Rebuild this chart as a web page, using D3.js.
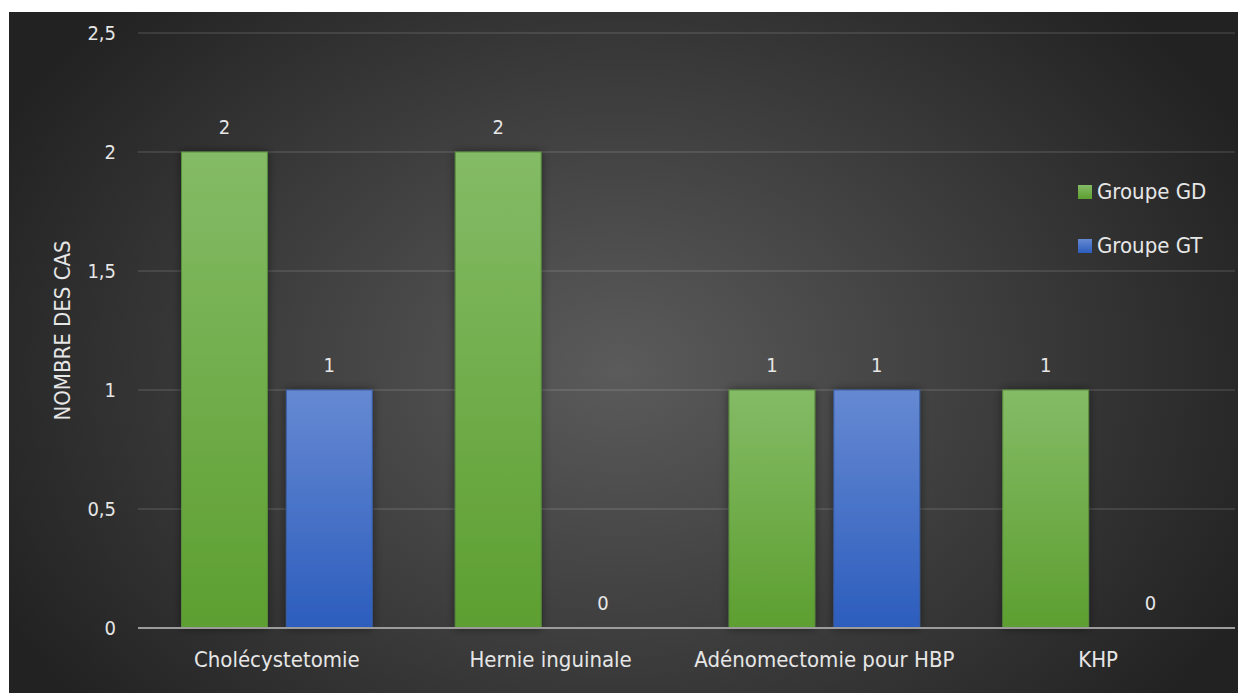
<!DOCTYPE html>
<html>
<head>
<meta charset="utf-8">
<script src="https://cdn.jsdelivr.net/npm/d3@7"></script>
<style>
  html, body { margin: 0; padding: 0; background: #ffffff; }
  svg { display: block; }
  text { font-family: "DejaVu Sans", sans-serif; font-stretch: condensed; fill: #e6e6e6; }
</style>
</head>
<body>
<svg id="chart" width="1238" height="693"></svg>
<script>
const categories = ["Cholécystetomie", "Hernie inguinale", "Adénomectomie pour HBP", "KHP"];
const seriesNames = ["Groupe GD", "Groupe GT"];
const groupGD = [2, 2, 1, 1];
const groupGT = [1, 0, 1, 0];
const yTicks = [0, 0.5, 1, 1.5, 2, 2.5];
const yTitle = "NOMBRE DES CAS";

const seriesValues = [groupGD, groupGT];
const W = 1238, H = 693;
const svg = d3.select("#chart");
const defs = svg.append("defs");

const bg = defs.append("radialGradient").attr("id", "bg")
  .attr("gradientUnits", "userSpaceOnUse")
  .attr("cx", 620).attr("cy", 370).attr("r", 700)
  .attr("gradientTransform", "translate(620,370) scale(1,0.75) translate(-620,-370)");
bg.append("stop").attr("offset", "0%").attr("stop-color", "#5b5b5b");
bg.append("stop").attr("offset", "100%").attr("stop-color", "#222222");

const grads = [["gGreen", "#84bb66", "#5d9f30"], ["gBlue", "#6689d2", "#2c5dbd"]];
grads.forEach(([id, top, bot]) => {
  const g = defs.append("linearGradient").attr("id", id).attr("x1", 0).attr("y1", 0).attr("x2", 0).attr("y2", 1);
  g.append("stop").attr("offset", "0%").attr("stop-color", top);
  g.append("stop").attr("offset", "100%").attr("stop-color", bot);
});
const sh = defs.append("filter").attr("id", "shadow").attr("x", "-30%").attr("y", "-10%").attr("width", "160%").attr("height", "120%");
sh.append("feDropShadow").attr("dx", 0).attr("dy", 0).attr("stdDeviation", 5)
  .attr("flood-color", "#000").attr("flood-opacity", 0.45);

svg.append("rect").attr("x", 9).attr("y", 12).attr("width", W - 9).attr("height", H - 12).attr("fill", "url(#bg)");

const x0 = d3.scaleBand().domain(categories).range([140, 1235]).paddingInner(0).paddingOuter(0);
const x1 = d3.scaleBand().domain(seriesNames).range([0, x0.bandwidth()]).paddingInner(0.181).paddingOuter(0.396);
const y = d3.scaleLinear().domain([0, 2.5]).range([628, 33]);
const fmt = v => String(v).replace(".", ",");

// gridlines
const yAxis = d3.axisLeft(y).tickValues(yTicks).tickFormat(fmt).tickSize(0).tickPadding(0);
svg.append("g").selectAll("line").data(yTicks.filter(t => t > 0)).join("line")
  .attr("x1", 138).attr("x2", 1235)
  .attr("y1", d => y(d)).attr("y2", d => y(d))
  .attr("stroke", "#ffffff").attr("stroke-opacity", 0.1).attr("stroke-width", 2);

// bars
const colors = ["url(#gGreen)", "url(#gBlue)"];
const strokes = ["#5a8f3c", "#3a5fa8"];
const barData = [];
categories.forEach((c, i) => seriesNames.forEach((s, j) => barData.push({ c, s, j, v: seriesValues[j][i] })));

svg.append("g").selectAll("rect").data(barData.filter(d => d.v > 0)).join("rect")
  .attr("x", d => x0(d.c) + x1(d.s))
  .attr("y", d => y(d.v))
  .attr("width", x1.bandwidth())
  .attr("height", d => y(0) - y(d.v))
  .attr("fill", d => colors[d.j])
  .attr("stroke", d => strokes[d.j]).attr("stroke-width", 1)
  .attr("filter", "url(#shadow)");

// data labels
svg.append("g").selectAll("text").data(barData).join("text")
  .attr("x", d => x0(d.c) + x1(d.s) + x1.bandwidth() / 2)
  .attr("y", d => y(d.v) - 18)
  .attr("text-anchor", "middle")
  .style("font-size", "20px")
  .text(d => fmt(d.v));

// x axis line
svg.append("line").attr("x1", 138).attr("x2", 1235).attr("y1", y(0)).attr("y2", y(0))
  .attr("stroke", "#9c9c9c").attr("stroke-width", 2);

// y axis labels
const gy = svg.append("g").attr("transform", "translate(116,0)").call(yAxis);
gy.select(".domain").remove();
gy.selectAll("text").style("font-size", "20px").attr("fill", "#e6e6e6")
  .attr("font-family", null);

// x category labels
svg.append("g").selectAll("text").data(categories).join("text")
  .attr("x", d => x0(d) + x0.bandwidth() / 2)
  .attr("y", 667)
  .attr("text-anchor", "middle")
  .style("font-size", "22px")
  .text(d => d);

// y title
svg.append("text")
  .attr("transform", `translate(70,${(y(0) + y(2.5)) / 2}) rotate(-90)`)
  .attr("text-anchor", "middle")
  .style("font-size", "22px")
  .text(yTitle);

// legend
const lg = svg.append("g").selectAll("g").data(seriesNames).join("g")
  .attr("transform", (d, i) => `translate(1078,${185 + i * 54})`);
lg.append("rect").attr("width", 14).attr("height", 14).attr("fill", (d, i) => colors[i]);
lg.append("text").attr("x", 19).attr("y", 14).style("font-size", "22px").text(d => d);
</script>
</body>
</html>
